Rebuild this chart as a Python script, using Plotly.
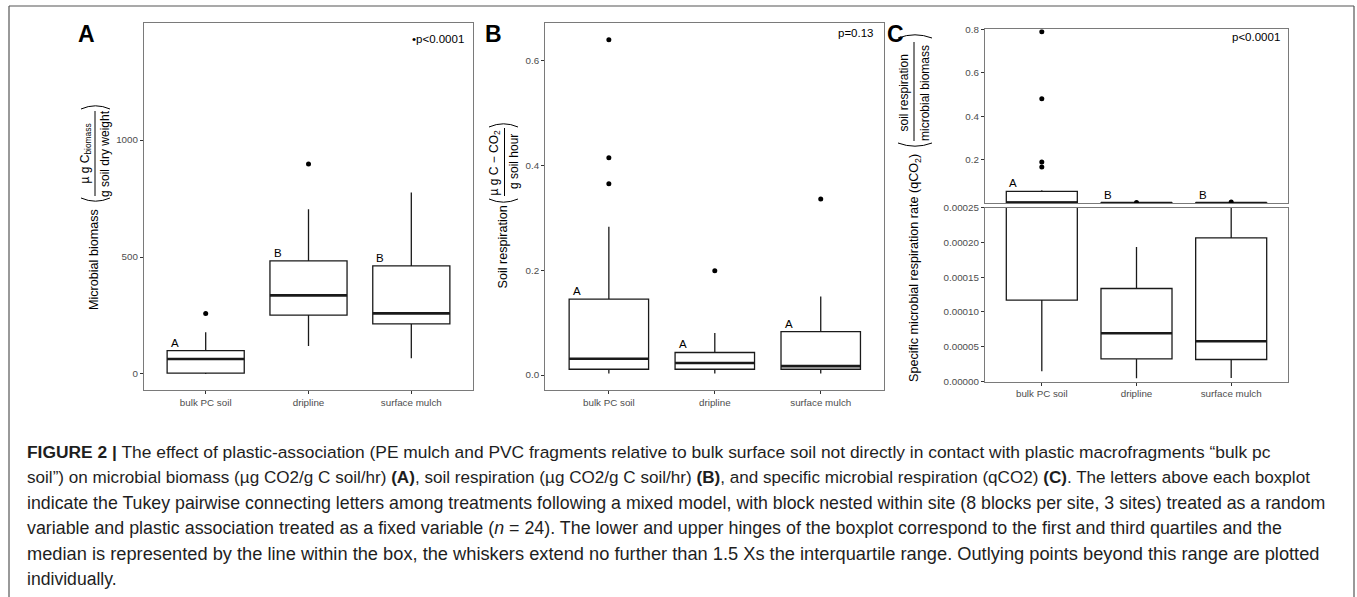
import plotly.graph_objects as go

W, H = 1357, 597

categories = ["bulk PC soil", "dripline", "surface mulch"]

# Panel A: microbial biomass
biomass_q1 = [4, 252, 214]
biomass_median = [64, 336, 259]
biomass_q3 = [100, 483, 462]
biomass_lower = [0, 120, 67]
biomass_upper = [178, 704, 776]
biomass_outliers = [[259], [897], []]
biomass_letters = ["A", "B", "B"]
biomass_ticks = [0, 500, 1000]

# Panel B: soil respiration
resp_q1 = [0.011, 0.011, 0.011]
resp_median = [0.031, 0.023, 0.017]
resp_q3 = [0.145, 0.043, 0.083]
resp_lower = [0.003, 0.003, 0.003]
resp_upper = [0.283, 0.080, 0.150]
resp_outliers = [[0.640, 0.415, 0.365], [0.199], [0.336]]
resp_letters = ["A", "A", "A"]
resp_ticks = [0.0, 0.2, 0.4, 0.6]

# Panel C: specific microbial respiration (broken axis)
qco2_q1 = [0.000117, 0.0000325, 0.0000316]
qco2_median = [0.0008, 0.0000694, 0.0000579]
qco2_q3 = [0.053, 0.0001336, 0.0002063]
qco2_lower = [0.0000148, 0.0000045, 0.0000052]
qco2_upper = [0.059, 0.0001934, 0.0015]
qco2_outliers = [[0.789, 0.480, 0.189, 0.166], [0.002], [0.004]]
qco2_letters = ["A", "B", "B"]
qco2_ticks_top = [0.2, 0.4, 0.6, 0.8]
qco2_ticks_bottom = [0.0, 0.00005, 0.00010, 0.00015, 0.00020, 0.00025]

p_values = ["\u2022p<0.0001", "p=0.13", "p<0.0001"]
panel_labels = ["A", "B", "C"]

caption_lines = [
    "<b>FIGURE 2 |</b> The effect of plastic-association (PE mulch and PVC fragments relative to bulk surface soil not directly in contact with plastic macrofragments \u201cbulk pc",
    "soil\u201d) on microbial biomass (\u00b5g CO2/g C soil/hr) <b>(A)</b>, soil respiration (\u00b5g CO2/g C soil/hr) <b>(B)</b>, and specific microbial respiration (qCO2) <b>(C)</b>. The letters above each boxplot",
    "indicate the Tukey pairwise connecting letters among treatments following a mixed model, with block nested within site (8 blocks per site, 3 sites) treated as a random",
    "variable and plastic association treated as a fixed variable (<i>n</i> = 24). The lower and upper hinges of the boxplot correspond to the first and third quartiles and the",
    "median is represented by the line within the box, the whiskers extend no further than 1.5 Xs the interquartile range. Outlying points beyond this range are plotted",
    "individually.",
]
caption_sizes = [17.4, 17.1, 17.75, 17.85, 18.25, 17.6]

FONT = "Liberation Sans, Arial, sans-serif"
INK = "#1a1a1a"


def px(x):
    return x / W


def py(y):
    return 1 - y / H


fig = go.Figure()


def add_boxes(q1, med, q3, lo, hi, outs, xa, ya):
    pos = list(range(len(categories)))
    fig.add_trace(go.Box(
        x=pos, q1=q1, median=med, q3=q3, lowerfence=lo, upperfence=hi,
        width=0.75, whiskerwidth=0, fillcolor="white",
        line=dict(color=INK, width=1.3), boxpoints=False,
        xaxis=xa, yaxis=ya, showlegend=False, hoverinfo="skip"))
    mx, my = [], []
    for i, m in enumerate(med):
        mx += [i - 0.375, i + 0.375, None]
        my += [m, m, None]
    fig.add_trace(go.Scatter(
        x=mx, y=my, mode="lines", line=dict(color=INK, width=2.6),
        xaxis=xa, yaxis=ya, showlegend=False, hoverinfo="skip"))
    ox, oy = [], []
    for i, vals in enumerate(outs):
        for v in vals:
            ox.append(i)
            oy.append(v)
    fig.add_trace(go.Scatter(
        x=ox, y=oy, mode="markers", marker=dict(color="black", size=5),
        xaxis=xa, yaxis=ya, showlegend=False, hoverinfo="skip"))


add_boxes(biomass_q1, biomass_median, biomass_q3, biomass_lower, biomass_upper, biomass_outliers, "x", "y")
add_boxes(resp_q1, resp_median, resp_q3, resp_lower, resp_upper, resp_outliers, "x2", "y2")
add_boxes(qco2_q1, qco2_median, qco2_q3, qco2_lower, qco2_upper, qco2_outliers, "x3", "y3")
add_boxes(qco2_q1, qco2_median, qco2_q3, qco2_lower, qco2_upper, qco2_outliers, "x4", "y4")

axis_common = dict(
    showline=True, mirror=True, linecolor="#7a7a7a", linewidth=1.2,
    showgrid=False, zeroline=False, ticks="outside", ticklen=3,
    tickcolor="#333333", tickwidth=1, automargin=False,
    tickfont=dict(family=FONT, size=9.8, color="#4d4d4d"),
)

xcat = dict(range=[-0.6, 2.6], tickvals=[0, 1, 2], ticktext=categories)

fig.update_layout(
    template="none",
    width=W, height=H, margin=dict(l=0, r=0, t=0, b=0, pad=0),
    paper_bgcolor="white", plot_bgcolor="white", showlegend=False,
    font=dict(family=FONT, color="black"),
    xaxis=dict(domain=[px(144), px(473)], anchor="y", **xcat, **axis_common),
    yaxis=dict(domain=[py(390), py(23)], anchor="x", range=[-68.4, 1500],
               tickvals=biomass_ticks, **axis_common),
    xaxis2=dict(domain=[px(545.3), px(884.3)], anchor="y2", **xcat, **axis_common),
    yaxis2=dict(domain=[py(390), py(23)], anchor="x2", range=[-0.0286, 0.672],
                tickvals=resp_ticks, tickformat=".1f", **axis_common),
    xaxis3=dict(domain=[px(985), px(1288)], anchor="y3", range=[-0.6, 2.6],
                showticklabels=False, showline=True, mirror=True,
                linecolor="#7a7a7a", linewidth=1.2, showgrid=False,
                zeroline=False, ticks="", automargin=False),
    yaxis3=dict(domain=[py(203.3), py(29.3)], anchor="x3", range=[-0.0015, 0.8],
                tickvals=qco2_ticks_top, tickformat=".1f", **axis_common),
    xaxis4=dict(domain=[px(985), px(1288)], anchor="y4", **xcat, **axis_common),
    yaxis4=dict(domain=[py(381.5), py(207.5)], anchor="x4", range=[0, 0.00025],
                tickvals=qco2_ticks_bottom, tickformat=".5f", **axis_common),
)

ann = []

# Tukey letters
for letters, q3, xr, yr in [
    (biomass_letters, biomass_q3, "x", "y"),
    (resp_letters, resp_q3, "x2", "y2"),
    (qco2_letters, qco2_q3, "x3", "y3"),
]:
    for i, (lt, q) in enumerate(zip(letters, q3)):
        ann.append(dict(x=i - 0.3, y=q, xref=xr, yref=yr, text=lt,
                        showarrow=False, yanchor="bottom", xanchor="center",
                        font=dict(family=FONT, size=11.5, color="black")))

# p-values
for txt, (xx, yy) in zip(p_values, [(466, 39), (876, 33), (1282, 37)]):
    ann.append(dict(x=px(xx), y=py(yy), xref="paper", yref="paper", text=txt,
                    showarrow=False, xanchor="right", yanchor="middle",
                    font=dict(family=FONT, size=11.5, color="black")))

# panel letters
for lt, (xx, yy) in zip(panel_labels, [(86, 34), (493, 34), (895, 34)]):
    ann.append(dict(x=px(xx), y=py(yy), xref="paper", yref="paper",
                    text="<b>%s</b>" % lt, showarrow=False,
                    xanchor="center", yanchor="middle",
                    font=dict(family=FONT, size=23, color="black")))

shapes = []


def rot_text(text, x, y, size=12.6):
    ann.append(dict(x=px(x), y=py(y), xref="paper", yref="paper", text=text,
                    textangle=-90, showarrow=False, xanchor="center",
                    yanchor="middle", font=dict(family=FONT, size=size, color="black")))


def paren(x0, x1, y_end, depth):
    # rotated parenthesis drawn as a thin arc; depth>0 bulges downward
    xm = (x0 + x1) / 2
    yc = y_end + 2 * depth
    path = "M %f,%f Q %f,%f %f,%f" % (px(x0), py(y_end), px(xm), py(yc), px(x1), py(y_end))
    shapes.append(dict(type="path", xref="paper", yref="paper", path=path,
                       line=dict(color="black", width=1)))


def frac_bar(x, y0, y1):
    shapes.append(dict(type="line", xref="paper", yref="paper",
                       x0=px(x), x1=px(x), y0=py(y0), y1=py(y1),
                       line=dict(color="black", width=1)))


FR = 12

# Title A
rot_text("Microbial biomass", 93.5, 259.5)
paren(81, 110, 198, 3.2)
rot_text("\u00b5 g C<sub>biomass</sub>", 85.5, 154, FR)
frac_bar(95, 111, 196)
rot_text("g soil dry weight", 105, 154, FR)
paren(81, 110, 109, -3.2)

# Title B
rot_text("Soil respiration", 503, 247.5)
paren(489, 518, 199, 3.2)
rot_text("\u00b5 g C \u2212 CO<sub>2</sub>", 494.5, 162, FR)
frac_bar(504.5, 128, 196)
rot_text("g soil hour", 514, 162, FR)
paren(489, 518, 127, -3.2)

# Title C
rot_text("Specific microbial respiration rate (qCO<sub>2</sub>)", 915, 268)
paren(898, 932, 143, 3.2)
rot_text("soil respiration", 903.5, 93, FR)
frac_bar(914, 42, 141)
rot_text("microbial biomass", 925, 93, FR)
paren(898, 932, 38, -3.2)

# caption
for k, (line, sz) in enumerate(zip(caption_lines, caption_sizes)):
    ann.append(dict(x=px(25), y=py(452 + 25.3 * k), xref="paper", yref="paper",
                    text=line, showarrow=False, xanchor="left", yanchor="middle",
                    font=dict(family=FONT, size=sz, color="#1e1e1e")))

# outer frame (open at the bottom)
for (x0, y0, x1, y1) in [(9, 6, 1354, 6), (9, 6, 9, 600), (1354, 6, 1354, 600)]:
    shapes.append(dict(type="line", xref="paper", yref="paper",
                       x0=px(x0), y0=py(y0), x1=px(x1), y1=py(y1),
                       line=dict(color="#555555", width=1.2)))

fig.update_layout(annotations=ann, shapes=shapes)

fig.write_html("out.html", config={"displayModeBar": False},
               post_script="document.body.style.margin='0';document.body.style.overflow='hidden';")
